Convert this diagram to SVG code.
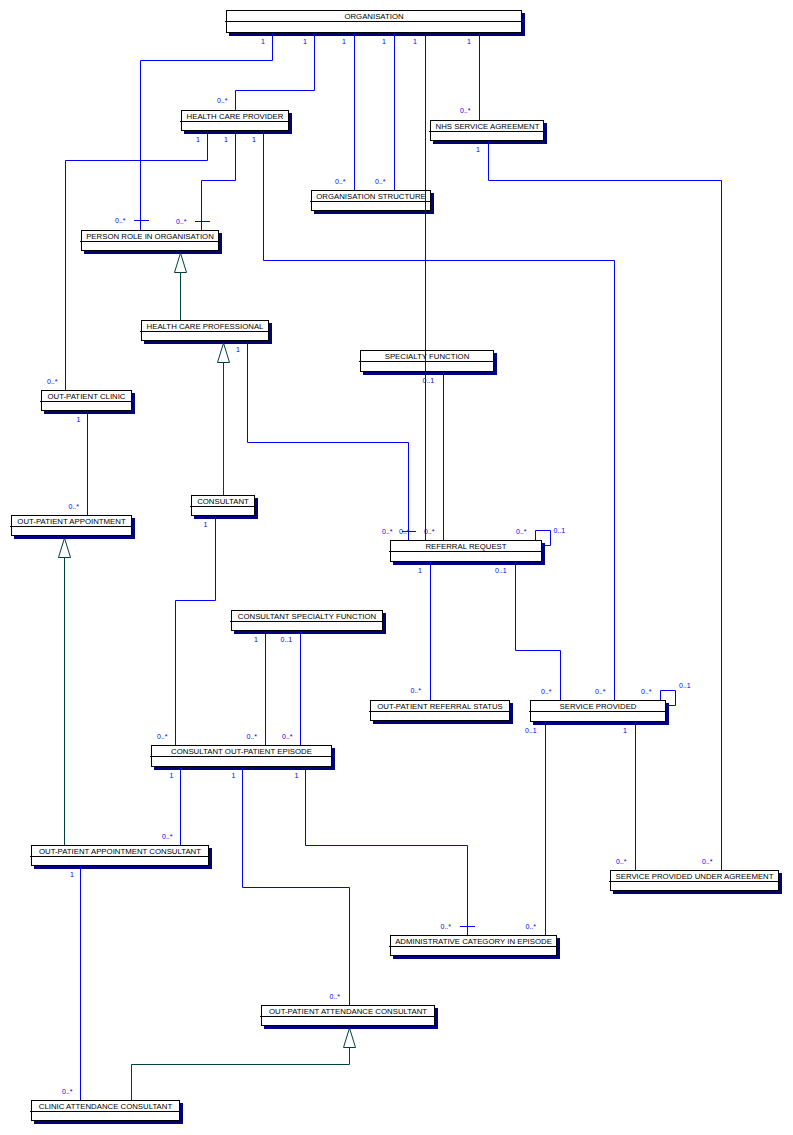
<svg xmlns="http://www.w3.org/2000/svg" width="793" height="1135" viewBox="0 0 793 1135">
<style>
.sh{fill:#000080}
.bx{fill:#fff;stroke:#000;stroke-width:1}
.dv{stroke:#000;stroke-width:1}
.t{font-family:"Liberation Sans",Arial,sans-serif;font-size:7.8px;fill:#000;text-anchor:middle}
.a{fill:none;stroke:#0000ff;stroke-width:1}
.g{fill:none;stroke:#004040;stroke-width:1}
.tri{fill:#fff;stroke:#004040;stroke-width:1}
.m{font-family:"Liberation Sans",Arial,sans-serif;font-size:7px;fill:#0000ff}
</style>
<rect width="793" height="1135" fill="#fff"/>
<g id="organisation"><rect class="sh" x="229" y="13" width="296" height="23"/><rect class="bx" x="226.5" y="10.5" width="295" height="22"/><path class="dv" d="M225,21.5H522"/><text class="t" x="374" y="19.2">ORGANISATION</text></g>
<g id="health-care-provider"><rect class="sh" x="184" y="113" width="108" height="21"/><rect class="bx" x="181.5" y="110.5" width="107" height="20"/><path class="dv" d="M180,121.5H289"/><text class="t" x="235" y="119.2">HEALTH CARE PROVIDER</text></g>
<g id="person-role-in-organisation"><rect class="sh" x="84" y="233" width="138" height="21"/><rect class="bx" x="81.5" y="230.5" width="137" height="20"/><path class="dv" d="M80,241.5H219"/><text class="t" x="150" y="239.2">PERSON ROLE IN ORGANISATION</text></g>
<g id="organisation-structure"><rect class="sh" x="314" y="193" width="120" height="21"/><rect class="bx" x="311.5" y="190.5" width="119" height="20"/><path class="dv" d="M310,201.5H431"/><text class="t" x="371" y="199.2">ORGANISATION STRUCTURE</text></g>
<g id="nhs-service-agreement"><rect class="sh" x="433" y="123" width="114" height="21"/><rect class="bx" x="430.5" y="120.5" width="113" height="20"/><path class="dv" d="M429,131.5H544"/><text class="t" x="487.5" y="129.2">NHS SERVICE AGREEMENT</text></g>
<g id="health-care-professional"><rect class="sh" x="144" y="323" width="128" height="21"/><rect class="bx" x="141.5" y="320.5" width="127" height="20"/><path class="dv" d="M140,331.5H269"/><text class="t" x="205" y="329.2">HEALTH CARE PROFESSIONAL</text></g>
<g id="out-patient-clinic"><rect class="sh" x="44" y="393" width="91" height="21"/><rect class="bx" x="41.5" y="390.5" width="90" height="20"/><path class="dv" d="M40,401.5H132"/><text class="t" x="86.5" y="399.2">OUT-PATIENT CLINIC</text></g>
<g id="out-patient-appointment"><rect class="sh" x="14" y="518" width="121" height="21"/><rect class="bx" x="11.5" y="515.5" width="120" height="20"/><path class="dv" d="M10,526.5H132"/><text class="t" x="71.5" y="524.2">OUT-PATIENT APPOINTMENT</text></g>
<g id="consultant"><rect class="sh" x="194" y="498" width="64" height="21"/><rect class="bx" x="191.5" y="495.5" width="63" height="20"/><path class="dv" d="M190,506.5H255"/><text class="t" x="223" y="504.2">CONSULTANT</text></g>
<g id="specialty-function"><rect class="sh" x="363" y="353" width="134" height="22"/><rect class="bx" x="360.5" y="350.5" width="133" height="21"/><path class="dv" d="M359,361.5H494"/><text class="t" x="427" y="359.2">SPECIALTY FUNCTION</text></g>
<g id="referral-request"><rect class="sh" x="393" y="543" width="152" height="22"/><rect class="bx" x="390.5" y="540.5" width="151" height="21"/><path class="dv" d="M389,551.5H542"/><text class="t" x="466" y="549.2">REFERRAL REQUEST</text></g>
<g id="consultant-specialty-function"><rect class="sh" x="234" y="613" width="152" height="21"/><rect class="bx" x="231.5" y="610.5" width="151" height="20"/><path class="dv" d="M230,621.5H383"/><text class="t" x="307" y="619.2">CONSULTANT SPECIALTY FUNCTION</text></g>
<g id="out-patient-referral-status"><rect class="sh" x="373" y="703" width="140" height="21"/><rect class="bx" x="370.5" y="700.5" width="139" height="20"/><path class="dv" d="M369,711.5H510"/><text class="t" x="440" y="709.2">OUT-PATIENT REFERRAL STATUS</text></g>
<g id="consultant-out-patient-episode"><rect class="sh" x="154" y="748" width="181" height="22"/><rect class="bx" x="151.5" y="745.5" width="180" height="21"/><path class="dv" d="M150,756.5H332"/><text class="t" x="241.5" y="754.2">CONSULTANT OUT-PATIENT EPISODE</text></g>
<g id="service-provided"><rect class="sh" x="533" y="703" width="136" height="22"/><rect class="bx" x="530.5" y="700.5" width="135" height="21"/><path class="dv" d="M529,711.5H666"/><text class="t" x="598" y="709.2">SERVICE PROVIDED</text></g>
<g id="service-provided-under-agreement"><rect class="sh" x="613" y="873" width="169" height="21"/><rect class="bx" x="610.5" y="870.5" width="168" height="20"/><path class="dv" d="M609,881.5H779"/><text class="t" x="694.5" y="879.2">SERVICE PROVIDED UNDER AGREEMENT</text></g>
<g id="administrative-category-in-episode"><rect class="sh" x="393" y="938" width="167" height="21"/><rect class="bx" x="390.5" y="935.5" width="166" height="20"/><path class="dv" d="M389,946.5H557"/><text class="t" x="473.5" y="944.2">ADMINISTRATIVE CATEGORY IN EPISODE</text></g>
<g id="out-patient-appointment-consultant"><rect class="sh" x="34" y="848" width="178" height="21"/><rect class="bx" x="31.5" y="845.5" width="177" height="20"/><path class="dv" d="M30,856.5H209"/><text class="t" x="120" y="854.2">OUT-PATIENT APPOINTMENT CONSULTANT</text></g>
<g id="out-patient-attendance-consultant"><rect class="sh" x="264" y="1008" width="174" height="21"/><rect class="bx" x="261.5" y="1005.5" width="173" height="20"/><path class="dv" d="M260,1016.5H435"/><text class="t" x="348" y="1014.2">OUT-PATIENT ATTENDANCE CONSULTANT</text></g>
<g id="clinic-attendance-consultant"><rect class="sh" x="34" y="1103" width="149" height="21"/><rect class="bx" x="31.5" y="1100.5" width="148" height="20"/><path class="dv" d="M30,1111.5H180"/><text class="t" x="105.5" y="1109.2">CLINIC ATTENDANCE CONSULTANT</text></g>
<g id="connectors">
<path class="a" d="M272.5,33V60.5H140.5V230M134,220.5H149"/>
<path class="a" d="M314.5,33V90.5H235.5V110"/>
<path class="a" d="M354.5,33V190"/>
<path class="a" d="M394.5,33V190"/>
<path class="a" d="M425.5,33V540"/>
<path class="a" d="M479.5,33V120"/>
<path class="a" d="M207.5,131V160.5H65.5V390"/>
<path class="a" d="M235.5,131V180.5H201.5V230M195,221.5H210"/>
<path class="a" d="M263.5,131V260.5H614.5V700"/>
<path class="a" d="M488.5,141V180.5H721.5V870"/>
<path class="a" d="M247.5,341V442.5H408.5V540M402,531.5H416"/>
<path class="a" d="M443.5,372V540"/>
<path class="a" d="M535.5,540V530.5H550.5V545.5H542"/>
<path class="a" d="M430.5,562V700"/>
<path class="a" d="M515.5,562V650.5H560.5V700"/>
<path class="a" d="M660.5,700V690.5H675.5V705.5H666"/>
<path class="a" d="M545.5,722V935"/>
<path class="a" d="M635.5,722V870"/>
<path class="a" d="M215.5,516V600.5H175.5V745"/>
<path class="a" d="M265.5,631V745"/>
<path class="a" d="M300.5,631V745"/>
<path class="a" d="M180.5,767V845"/>
<path class="a" d="M242.5,767V887.5H349.5V1005"/>
<path class="a" d="M305.5,767V845.5H467.5V935M460,926.5H475"/>
<path class="a" d="M87.5,411V515"/>
<path class="a" d="M80.5,866V1100"/>
<path class="g" d="M180.5,320V272.5"/>
<polygon class="tri" points="180.5,253 174.5,272.5 186.5,272.5"/>
<path class="g" d="M223.5,495V362.5"/>
<polygon class="tri" points="223.5,343 217.5,362.5 229.5,362.5"/>
<path class="g" d="M64.5,845V557.5"/>
<polygon class="tri" points="64.5,538 58.5,557.5 70.5,557.5"/>
<path class="g" d="M131.5,1100V1064.5H349.5V1047.5"/>
<polygon class="tri" points="349.5,1028 343.5,1047.5 355.5,1047.5"/>
</g>
<g id="labels">
<text class="m" x="261" y="44">1</text>
<text class="m" x="303" y="44">1</text>
<text class="m" x="342" y="44">1</text>
<text class="m" x="382" y="44">1</text>
<text class="m" x="413" y="44">1</text>
<text class="m" x="467" y="44">1</text>
<text class="m" x="115" y="223">0..*</text>
<text class="m" x="217" y="103">0..*</text>
<text class="m" x="335" y="184">0..*</text>
<text class="m" x="375" y="184">0..*</text>
<text class="m" x="460" y="113">0..*</text>
<text class="m" x="196" y="142">1</text>
<text class="m" x="224" y="142">1</text>
<text class="m" x="252" y="142">1</text>
<text class="m" x="476" y="152">1</text>
<text class="m" x="47" y="384">0..*</text>
<text class="m" x="176" y="224">0..*</text>
<text class="m" x="595" y="694">0..*</text>
<text class="m" x="702" y="864">0..*</text>
<text class="m" x="236" y="352">1</text>
<text class="m" x="382" y="534">0..*</text>
<text class="m" x="399" y="534">0..*</text>
<text class="m" x="424" y="534">0..*</text>
<text class="m" x="422.5" y="383">0..1</text>
<text class="m" x="516" y="534">0..*</text>
<text class="m" x="553.5" y="533">0..1</text>
<text class="m" x="418" y="573">1</text>
<text class="m" x="410.5" y="693">0..*</text>
<text class="m" x="495" y="573">0..1</text>
<text class="m" x="541" y="694">0..*</text>
<text class="m" x="641" y="694">0..*</text>
<text class="m" x="679" y="688">0..1</text>
<text class="m" x="525" y="733">0..1</text>
<text class="m" x="525.5" y="929">0..*</text>
<text class="m" x="623" y="733">1</text>
<text class="m" x="616" y="864">0..*</text>
<text class="m" x="203.5" y="527">1</text>
<text class="m" x="157" y="739">0..*</text>
<text class="m" x="254" y="642">1</text>
<text class="m" x="246.5" y="739">0..*</text>
<text class="m" x="280.5" y="642">0..1</text>
<text class="m" x="282" y="739">0..*</text>
<text class="m" x="169.5" y="778">1</text>
<text class="m" x="162" y="839">0..*</text>
<text class="m" x="231.5" y="778">1</text>
<text class="m" x="329.5" y="999">0..*</text>
<text class="m" x="294.5" y="778">1</text>
<text class="m" x="440.5" y="929">0..*</text>
<text class="m" x="76.5" y="422">1</text>
<text class="m" x="68.5" y="509">0..*</text>
<text class="m" x="70" y="877">1</text>
<text class="m" x="62" y="1094">0..*</text>
</g>
</svg>
